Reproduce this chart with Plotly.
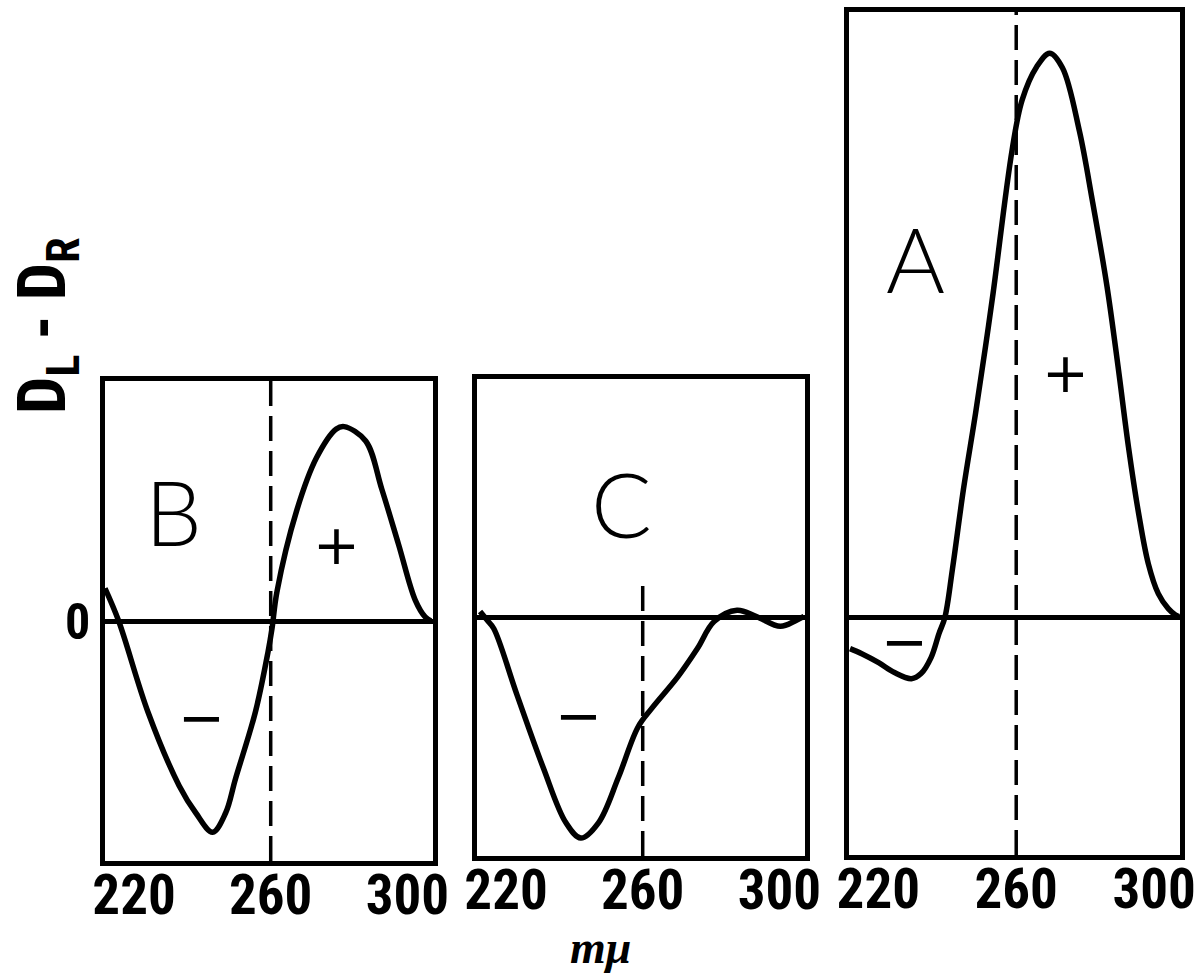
import plotly.graph_objects as go

# ---- data (wavelength in m\u03bc, D_L - D_R in arbitrary units) ----
b_wl = [211.5, 215.5, 224.1, 233.2, 238.1, 243.0, 246.8, 249.7, 255.5, 259.2, 260.4,
        261.8, 267.6, 273.4, 279.2, 281.5, 287.8, 292.5, 297.4, 302.3, 305.2, 306.9]
b_cd = [0.136, 0.0, -0.38, -0.686, -0.80, -0.88, -0.80, -0.657, -0.38, -0.13, -0.03,
        0.12, 0.46, 0.68, 0.80, 0.81, 0.75, 0.55, 0.32, 0.087, 0.017, 0.0]

c_wl = [212.4, 214.4, 216.4, 223.1, 230.9, 237.5, 241.9, 247.1, 252.9, 258.6, 262.7,
        270.2, 276.0, 280.9, 287.6, 293.3, 300.3, 304.9, 307.2]
c_cd = [0.025, -0.01, -0.046, -0.32, -0.63, -0.86, -0.925, -0.86, -0.67, -0.46, -0.38,
        -0.25, -0.13, -0.017, 0.03, 0.004, -0.037, -0.012, 0.004]

a_wl = [211.8, 215.2, 220.1, 224.7, 229.6, 232.4, 235.3, 237.6, 239.3, 241.5,
        244.7, 248.2, 251.1, 253.3, 258.8, 261.7, 265.9, 269.7, 273.4, 278.3, 282.1, 286.3,
        289.5, 292.6, 295.5, 298.3, 301.2, 304.1, 306.1, 307.2]
a_cd = [-0.128, -0.149, -0.186, -0.227, -0.252, -0.231, -0.165, -0.066, 0.0, 0.20,
        0.53, 0.843, 1.12, 1.34, 1.93, 2.136, 2.273, 2.33, 2.27, 2.01, 1.72, 1.37,
        1.04, 0.70, 0.43, 0.223, 0.099, 0.037, 0.012, 0.004]

x_ticks = [220, 260, 300]
x_tick_text = ["220", "260", "300"]
y_ticks = [0]
y_tick_text = ["0"]
ref_wl = 260
panel_names = ["B", "C", "A"]

W, H = 1203, 974
X_RANGE = [211.5, 307.5]
Y_RANGES = [[-1.0, 1.0], [-1.0, 1.0], [-0.98, 2.5]]
X_PX = [(105, 433), (477, 805), (849, 1180)]
Y_PX = [(381, 861), (379, 856), (12, 855)]
X_DOMAINS = [[a / W, b / W] for a, b in X_PX]
Y_DOMAINS = [[1 - b / H, 1 - a / H] for a, b in Y_PX]

COND = "Roboto Condensed, Liberation Sans Narrow, DejaVu Sans Condensed, sans-serif"
TICK_FONT = dict(family=COND, size=55, color="black", weight="bold")

fig = go.Figure()
series = [(b_wl, b_cd), (c_wl, c_cd), (a_wl, a_cd)]
for i, (wl, cd) in enumerate(series):
    sfx = "" if i == 0 else str(i + 1)
    fig.add_trace(go.Scatter(x=wl, y=cd, mode="lines",
                             line=dict(color="black", width=5.5, shape="spline", smoothing=1.0),
                             xaxis="x" + sfx, yaxis="y" + sfx, showlegend=False, hoverinfo="skip"))

layout = dict(width=W, height=H, margin=dict(l=0, r=0, t=0, b=0), template="none",
              paper_bgcolor="white", plot_bgcolor="white", showlegend=False)
for i in range(3):
    sfx = "" if i == 0 else str(i + 1)
    layout["xaxis" + sfx] = dict(domain=X_DOMAINS[i], range=X_RANGE, anchor="y" + sfx,
                                 showline=True, mirror=True, linewidth=4.5, linecolor="black",
                                 showgrid=False, zeroline=False, tickvals=x_ticks, ticktext=x_tick_text,
                                 ticks="", ticklabelstandoff=-18, ticklabeloverflow="allow",
                                 tickfont=TICK_FONT, automargin=False, fixedrange=True)
    layout["yaxis" + sfx] = dict(domain=Y_DOMAINS[i], range=Y_RANGES[i], anchor="x" + sfx,
                                 showline=True, mirror=True, linewidth=4.5, linecolor="black",
                                 showgrid=False, zeroline=True, zerolinewidth=4.5, zerolinecolor="black",
                                 tickvals=y_ticks if i == 0 else [], ticktext=y_tick_text if i == 0 else [],
                                 ticks="", ticklabeloverflow="allow",
                                 tickfont=dict(family=COND, size=50, color="black", weight="bold"),
                                 automargin=False, fixedrange=True)
fig.update_layout(**layout)

# dashed reference lines at 260 m\u03bc
dash_tops = [1.0, 0.17, 2.5]
for i in range(3):
    sfx = "" if i == 0 else str(i + 1)
    fig.add_shape(type="line", xref="x" + sfx, yref="y" + sfx, x0=ref_wl, x1=ref_wl,
                  y0=Y_RANGES[i][0], y1=dash_tops[i], line=dict(color="black", width=3.5, dash="25px,10px"),
                  layer="below")

# panel letters
letter_pos = [(231.5, 0.46), (253.7, 0.48), (230.7, 1.485)]
for i in range(3):
    sfx = "" if i == 0 else str(i + 1)
    fig.add_annotation(x=letter_pos[i][0], y=letter_pos[i][1], xref="x" + sfx, yref="y" + sfx,
                       text=panel_names[i], showarrow=False, xanchor="center", yanchor="middle",
                       font=dict(family="Lato, DejaVu Sans, sans-serif", size=90, color="black", weight=300))

# sign markers
signs = [("+", 279.2, 0.32, 0), ("\u2212", 239.8, -0.40, 0), ("\u2212", 241.3, -0.41, 1),
         ("+", 274.3, 1.01, 2), ("\u2212", 227.5, -0.10, 2)]
for s, xv, yv, i in signs:
    sfx = "" if i == 0 else str(i + 1)
    fig.add_annotation(x=xv, y=yv, xref="x" + sfx, yref="y" + sfx, text=s, showarrow=False,
                       xanchor="center", yanchor="middle",
                       font=dict(family="DejaVu Sans, sans-serif", size=56, color="black"))

# axis titles
fig.add_annotation(x=47 / W, y=1 - 326 / H, xref="paper", yref="paper",
                   text="D<sub>L</sub> - D<sub>R</sub>", textangle=-90, showarrow=False,
                   xanchor="center", yanchor="middle",
                   font=dict(family=COND, size=66, color="black", weight="bold"))
fig.add_annotation(x=600 / W, y=0, xref="paper", yref="paper",
                   text="<i><b>m\u03bc</b></i>", showarrow=False, xanchor="center", yanchor="bottom",
                   borderpad=0,
                   font=dict(family="Liberation Serif, DejaVu Serif, serif", size=46, color="black"))

fig.write_html("out.html", config={"displayModeBar": False},
               post_script="document.body.style.margin='0px';document.body.style.overflow='hidden';")
